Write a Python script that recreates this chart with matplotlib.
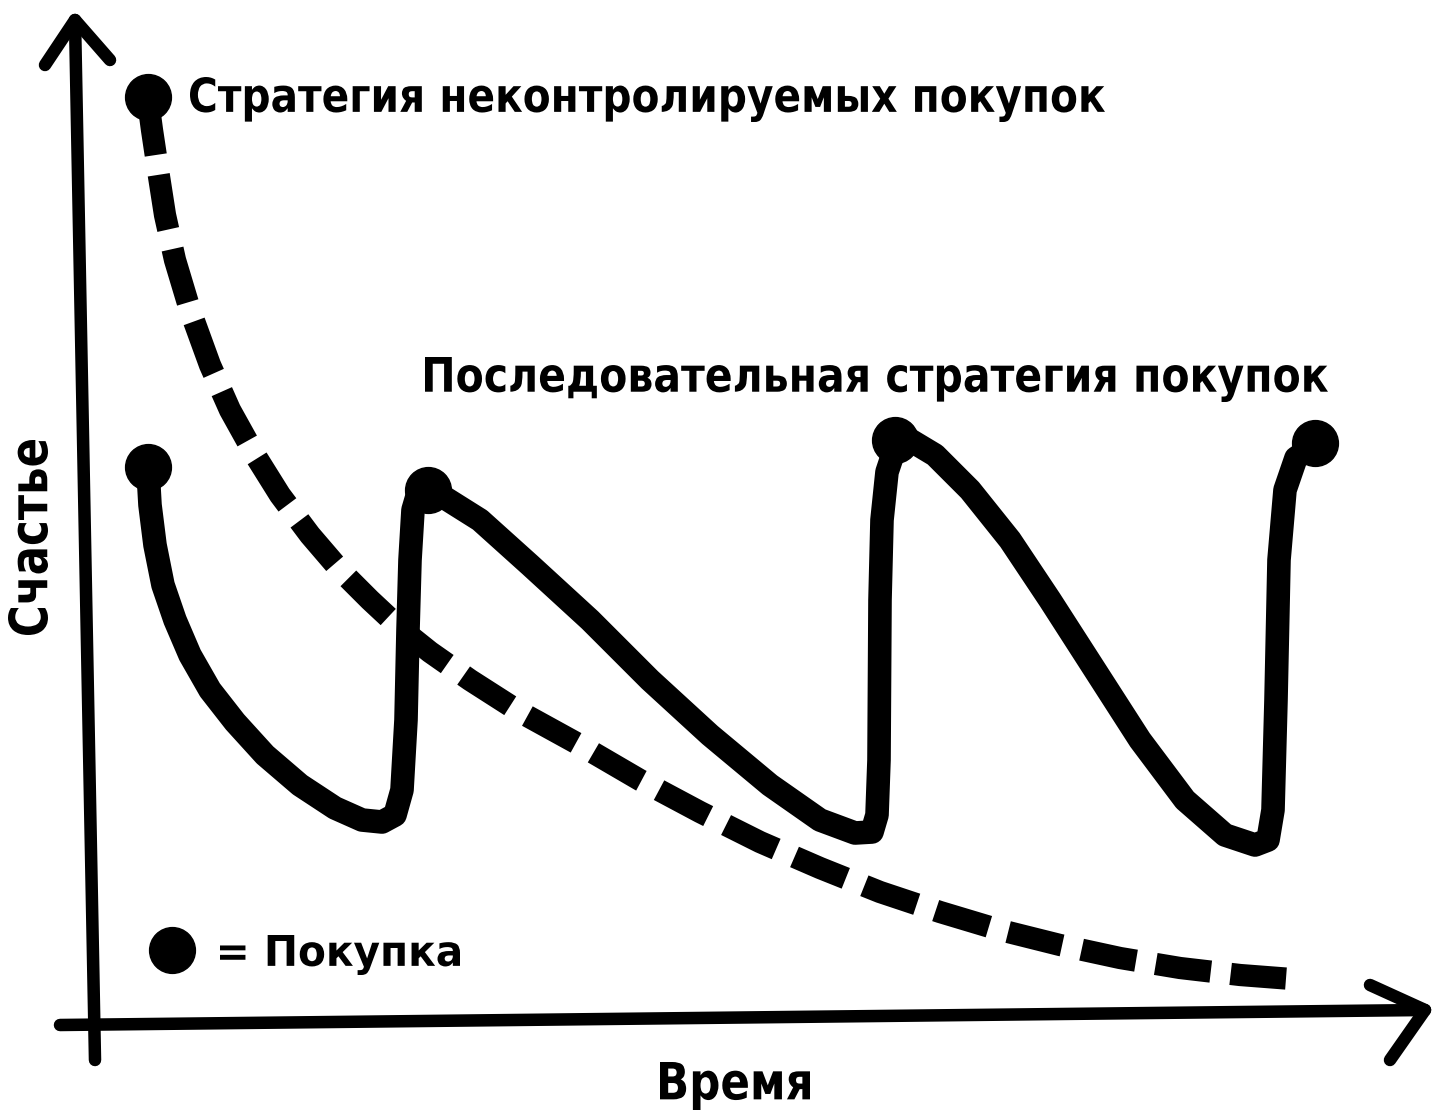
import matplotlib
matplotlib.use("Agg")
import matplotlib.pyplot as plt
from matplotlib.textpath import TextPath
from matplotlib.patches import PathPatch
from matplotlib.font_manager import FontProperties
from matplotlib.transforms import Affine2D

# data (in image-like coordinates, y downward)
dash_x = [148,152,158,165,175,190,210,230,255,280,310,340,370,400,430,470,520,580,640,700,760,820,880,940,1000,1060,1120,1180,1240,1305]
dash_y = [100,130,170,215,260,310,365,410,455,495,535,570,600,628,652,680,712,745,780,812,842,868,892,912,930,945,958,968,975,980]
solid_x = [148,150,155,163,175,190,210,235,265,300,335,362,382,395,402,406,408,410,413,418,428,445,480,530,590,650,710,770,820,855,872,877,879,880,882,887,895,910,935,970,1010,1050,1095,1140,1185,1225,1255,1268,1273,1276,1279,1285,1296,1315]
solid_y = [470,505,545,585,620,655,690,722,755,785,808,820,822,815,790,720,630,560,510,493,490,498,520,565,620,680,735,785,820,833,832,815,760,600,520,472,448,440,455,490,540,600,670,740,800,835,845,840,810,700,560,490,458,445]
purch_x = [148,148,428,895,1315]
purch_y = [97,467,490,440,443]
legend_dot = (172, 950)
labels = ["Стратегия неконтролируемых покупок", "Последовательная стратегия покупок", "= Покупка", "Время", "Счастье"]

fig = plt.figure(figsize=(14.4,11.2), dpi=100)
ax = fig.add_axes([0,0,1,1])
ax.set_xlim(0,1440); ax.set_ylim(1120,0); ax.axis('off')
fp = FontProperties(family='DejaVu Sans', weight='bold')

def fit_text(s, x0, x1, y0, y1, rot=False):
    tp = TextPath((0,0), s, size=50, prop=fp)
    ext = tp.get_extents()
    if not rot:
        t = (Affine2D().translate(-ext.x0, -ext.y0)
             .scale((x1-x0)/ext.width, -(y1-y0)/ext.height).translate(x0, y1))
    else:
        t = (Affine2D().translate(-ext.x0, -ext.y0)
             .scale((y1-y0)/ext.width, (x1-x0)/ext.height)
             .rotate_deg(90).scale(1,-1).translate(x1, y1))
    ax.add_patch(PathPatch(t.transform_path(tp), color='black', lw=0))

ax.plot(dash_x, dash_y, color='black', lw=16, dashes=(2.5,0.9), solid_capstyle='butt')
ax.plot(solid_x, solid_y, color='black', lw=17, solid_capstyle='round', solid_joinstyle='round')
ax.plot(purch_x, purch_y, 'o', color='black', ms=33)
ax.plot([legend_dot[0]], [legend_dot[1]], 'o', color='black', ms=33)

# axes
ax.plot([95,75],[1060,20], color='black', lw=9, solid_capstyle='round')
ax.plot([45,75,110],[65,20,60], color='black', lw=9, solid_capstyle='round', solid_joinstyle='round')
ax.plot([60,1425],[1025,1010], color='black', lw=9, solid_capstyle='round')
ax.plot([1370,1425,1390],[985,1010,1060], color='black', lw=9, solid_capstyle='round', solid_joinstyle='round')

fit_text(labels[0], 190, 1105, 77, 122)
fit_text(labels[1], 425, 1328, 357, 402)
fit_text(labels[2], 220, 460, 935, 975)
fit_text(labels[3], 660, 810, 1062, 1110)
fit_text(labels[4], 8, 48, 440, 635, rot=True)
fig.savefig("out.png", dpi=100)
